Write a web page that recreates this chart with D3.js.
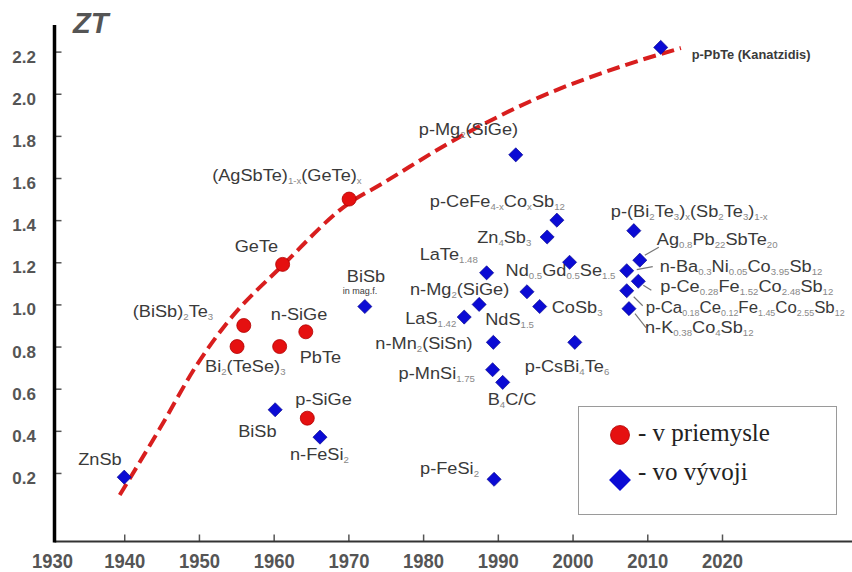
<!DOCTYPE html>
<html>
<head>
<meta charset="utf-8">
<title>ZT</title>
<script src="https://d3js.org/d3.v7.min.js"></script>
<style>
  body { margin: 0; padding: 0; background: #fff; }
  svg { display: block; font-family: "Liberation Sans", Arial, sans-serif; }
  .lbl { fill: #3a3a3a; }
</style>
</head>
<body>
<script>
// ---- data ----
var xTicks = [1930, 1940, 1950, 1960, 1970, 1980, 1990, 2000, 2010, 2020];
var yTicks = [0.2, 0.4, 0.6, 0.8, 1.0, 1.2, 1.4, 1.6, 1.8, 2.0, 2.2];

// materials in industry (red circles)
var indNames = ["(AgSbTe)_{1-x}(GeTe)_{x}", "GeTe", "(BiSb)_{2}Te_{3}", "n-SiGe", "Bi_{2}(TeSe)_{3}", "PbTe", "p-SiGe"];
var indYears = [1970.1, 1961.2, 1956.0, 1964.3, 1955.1, 1960.8, 1964.5];
var indZT    = [1.50, 1.19, 0.90, 0.87, 0.80, 0.80, 0.46];

// materials in development (blue diamonds)
var devNames = ["ZnSb", "BiSb|in mag.f.", "BiSb", "n-FeSi_{2}", "p-Mg_{2}(SiGe)", "p-CeFe_{4-x}Co_{x}Sb_{12}",
  "Zn_{4}Sb_{3}", "Nd_{0.5}Gd_{0.5}Se_{1.5}", "LaTe_{1.48}", "n-Mg_{2}(SiGe)", "NdS_{1.5}", "CoSb_{3}",
  "LaS_{1.42}", "n-Mn_{2}(SiSn)", "p-CsBi_{4}Te_{6}", "p-MnSi_{1.75}", "B_{4}C/C", "p-FeSi_{2}",
  "p-PbTe (Kanatzidis)", "p-(Bi_{2}Te_{3})_{x}(Sb_{2}Te_{3})_{1-x}", "Ag_{0.8}Pb_{22}SbTe_{20}",
  "n-Ba_{0.3}Ni_{0.05}Co_{3.95}Sb_{12}", "p-Ce_{0.28}Fe_{1.52}Co_{2.48}Sb_{12}",
  "p-Ca_{0.18}Ce_{0.12}Fe_{1.45}Co_{2.55}Sb_{12}", "n-K_{0.38}Co_{4}Sb_{12}"];
var devYears = [1940.0, 1972.2, 1960.2, 1966.2, 1992.4, 1997.9, 1996.6, 1999.6, 1988.5, 1993.9, 1987.5, 1995.6,
  1985.5, 1989.4, 2000.3, 1989.3, 1990.65, 1989.5, 2011.8, 2008.2, 2009.0, 2007.25, 2008.8, 2007.25, 2007.55];
var devZT = [0.18, 0.99, 0.50, 0.37, 1.71, 1.40, 1.32, 1.20, 1.15, 1.06, 1.00, 0.99,
  0.94, 0.82, 0.82, 0.69, 0.63, 0.17, 2.22, 1.35, 1.21, 1.16, 1.11, 1.065, 0.98];

// dashed trend curve
var trendYears = [1939.4, 1944.8, 1949.7, 1953.75, 1961.25, 1970.1, 1974.2, 1984.9, 1995.6, 2006.3, 2014.5];
var trendZT    = [0.095, 0.413, 0.712, 0.912, 1.187, 1.481, 1.567, 1.795, 1.984, 2.127, 2.217];

var legendLabels = ["- v priemysle", "- vo vývoji"];

// ---- label layout (pixel offsets from the marker) ----
var indLabelPos = [[-137, -18], [-48, -12], [-111, -8], [-35, -12], [-32, 25], [20, 16], [-12, -13]];
var devLabelPos = [[-46, -12], [-18, -25], [-37, 27], [-30, 23], [-97, -20], [-127, -13],
  [-70, 6], [-64, 14], [-67, -13], [-117, 3], [6, 21], [12, 6],
  [-59, 7], [-118, 7], [-50, 30], [-94, 9], [-15, 23], [-74, -5],
  [31, 12], [-23, -14], [17, -15], [33, 1], [22, 11], [19, 22], [16, 24]];
// leader lines (x1,y1,x2,y2 relative to marker) for the crowded cluster on the right
var leaders = {20: [5, -5, 19, -13], 21: [10, -1, 26, -4], 22: [5, 4, 13, 9], 23: [7, 6, 16, 15], 24: [6, 5, 17, 19]};

var width = 852, height = 572;
var axisY = 541.5, axisX = 54.5;

var svg = d3.select("body").append("svg")
  .attr("width", width)
  .attr("height", height);

var x = d3.scaleLinear().domain([1930, 2020]).range([49.5, 722]);
var y = d3.scaleLinear().domain([0, 2.2]).range([515.1, 51.6]);

// ---- axes ----
var gx = svg.append("g")
  .attr("transform", "translate(0," + axisY + ")")
  .call(d3.axisBottom(x).tickValues(xTicks).tickFormat(d3.format("d")).tickSize(-7).tickPadding(12));
gx.select(".domain").remove();
gx.selectAll(".tick line").attr("stroke", "#555").attr("stroke-width", 1.5)
  .filter(d => d === 1930).remove();
gx.selectAll(".tick text")
  .attr("fill", "#555")
  .attr("font-size", 20)
  .attr("font-weight", "bold")
  .attr("font-family", "Liberation Sans, Arial, sans-serif")
  .attr("textLength", 41)
  .attr("lengthAdjust", "spacingAndGlyphs")
  .attr("x", d => d === 1930 ? 2.5 : 0)
  .attr("text-anchor", "middle");

var gy = svg.append("g")
  .attr("transform", "translate(" + axisX + ",0)")
  .call(d3.axisLeft(y).tickValues(yTicks).tickFormat(d3.format(".1f")).tickSize(-7).tickPadding(18.5));
gy.select(".domain").remove();
gy.selectAll(".tick line").attr("stroke", "#555").attr("stroke-width", 1.5);
gy.selectAll(".tick text")
  .attr("fill", "#555")
  .attr("font-size", 17)
  .attr("font-weight", "bold")
  .attr("font-family", "Liberation Sans, Arial, sans-serif")
  .attr("dy", "0.62em");

svg.append("line")
  .attr("x1", axisX).attr("x2", width)
  .attr("y1", axisY).attr("y2", axisY)
  .attr("stroke", "#333").attr("stroke-width", 2);
svg.append("line")
  .attr("x1", axisX).attr("x2", axisX)
  .attr("y1", 25).attr("y2", axisY + 1)
  .attr("stroke", "#000").attr("stroke-width", 3.5);

svg.append("text")
  .attr("x", 73).attr("y", 33)
  .attr("font-size", 29)
  .attr("font-weight", "bold")
  .attr("font-style", "italic")
  .attr("fill", "#555")
  .text("ZT");

// ---- trend curve ----
var trend = trendYears.map((t, i) => [t, trendZT[i]]);
svg.append("path")
  .datum(trend)
  .attr("fill", "none")
  .attr("stroke", "#d81e1e")
  .attr("stroke-width", 4)
  .attr("stroke-dasharray", "13,6")
  .attr("d", d3.line().x(d => x(d[0])).y(d => y(d[1])).curve(d3.curveMonotoneX));

// ---- label helper: "_{..}" marks subscripts ----
function addLabel(g, str, px, py, size, bold, sx) {
  var t = g.append("text").attr("class", "lbl")
    .attr("transform", "translate(" + px + "," + py + ") scale(" + (sx || 1.07) + ",1)")
    .attr("font-size", size);
  if (bold) t.attr("font-weight", "bold").attr("fill", "#222");
  var parts = str.split(/(_\{[^}]*\})/);
  var sub = false;
  parts.forEach(p => {
    if (!p) return;
    if (p.indexOf("_{") === 0) {
      t.append("tspan").attr("dy", sub ? 0 : 3).attr("font-size", 9).attr("fill", "#888").text(p.slice(2, -1));
      sub = true;
    } else {
      t.append("tspan").attr("dy", sub ? -3 : 0).text(p);
      sub = false;
    }
  });
  return t;
}

var labels = svg.append("g");

// leader lines
Object.keys(leaders).forEach(k => {
  var i = +k, l = leaders[k];
  var cx = x(devYears[i]), cy = y(devZT[i]);
  labels.append("line")
    .attr("x1", cx + l[0]).attr("y1", cy + l[1])
    .attr("x2", cx + l[2]).attr("y2", cy + l[3])
    .attr("stroke", "#777").attr("stroke-width", 1.2);
});

// ---- markers ----
var diamond = d3.symbol().type(d3.symbolSquare).size(100);
var dev = devYears.map((t, i) => ({ name: devNames[i], year: t, zt: devZT[i], pos: devLabelPos[i] }));
var ind = indYears.map((t, i) => ({ name: indNames[i], year: t, zt: indZT[i], pos: indLabelPos[i] }));

svg.append("g").selectAll("path")
  .data(dev)
  .join("path")
  .attr("d", diamond)
  .attr("transform", d => "translate(" + x(d.year) + "," + y(d.zt) + ") rotate(45)")
  .attr("fill", "#0b0bd4")
  .attr("stroke", "#06068a")
  .attr("stroke-width", 0.6);

svg.append("g").selectAll("circle")
  .data(ind)
  .join("circle")
  .attr("cx", d => x(d.year))
  .attr("cy", d => y(d.zt))
  .attr("r", 7)
  .attr("fill", "#e51010")
  .attr("stroke", "#b00000")
  .attr("stroke-width", 0.8);

// ---- labels ----
ind.forEach(d => {
  addLabel(labels, d.name, x(d.year) + d.pos[0], y(d.zt) + d.pos[1], 17, false);
});
dev.forEach(d => {
  var cx = x(d.year) + d.pos[0], cy = y(d.zt) + d.pos[1];
  var lines = d.name.split("|");
  if (d.name.indexOf("Kanatzidis") >= 0) {
    addLabel(labels, lines[0], cx, cy, 12, true);
  } else if (d.name.indexOf("p-Ca") === 0) {
    // longest label, squeezed so it stays inside the right edge
    addLabel(labels, lines[0], cx, cy, 17, false, 0.99);
  } else {
    addLabel(labels, lines[0], cx, cy, 17, false);
  }
  if (lines[1]) {
    labels.append("text").attr("class", "lbl")
      .attr("x", cx - 4).attr("y", cy + 12)
      .attr("font-size", 9)
      .text(lines[1]);
  }
});

// ---- legend ----
var lg = svg.append("g");
lg.append("rect")
  .attr("x", 578.5).attr("y", 406.5)
  .attr("width", 258).attr("height", 108)
  .attr("fill", "#fff")
  .attr("stroke", "#9a9a9a")
  .attr("stroke-width", 1);
lg.append("circle")
  .attr("cx", 620).attr("cy", 435).attr("r", 9.5)
  .attr("fill", "#e51010").attr("stroke", "#b00000").attr("stroke-width", 0.8);
lg.append("path")
  .attr("d", d3.symbol().type(d3.symbolSquare).size(240))
  .attr("transform", "translate(620,480) rotate(45)")
  .attr("fill", "#0b0bd4");
lg.selectAll("text")
  .data(legendLabels)
  .join("text")
  .attr("x", 638)
  .attr("y", (d, i) => 441 + i * 39)
  .attr("font-family", "Liberation Serif, Times New Roman, serif")
  .attr("font-size", 25)
  .attr("fill", "#222")
  .text(d => d);
</script>
</body>
</html>
